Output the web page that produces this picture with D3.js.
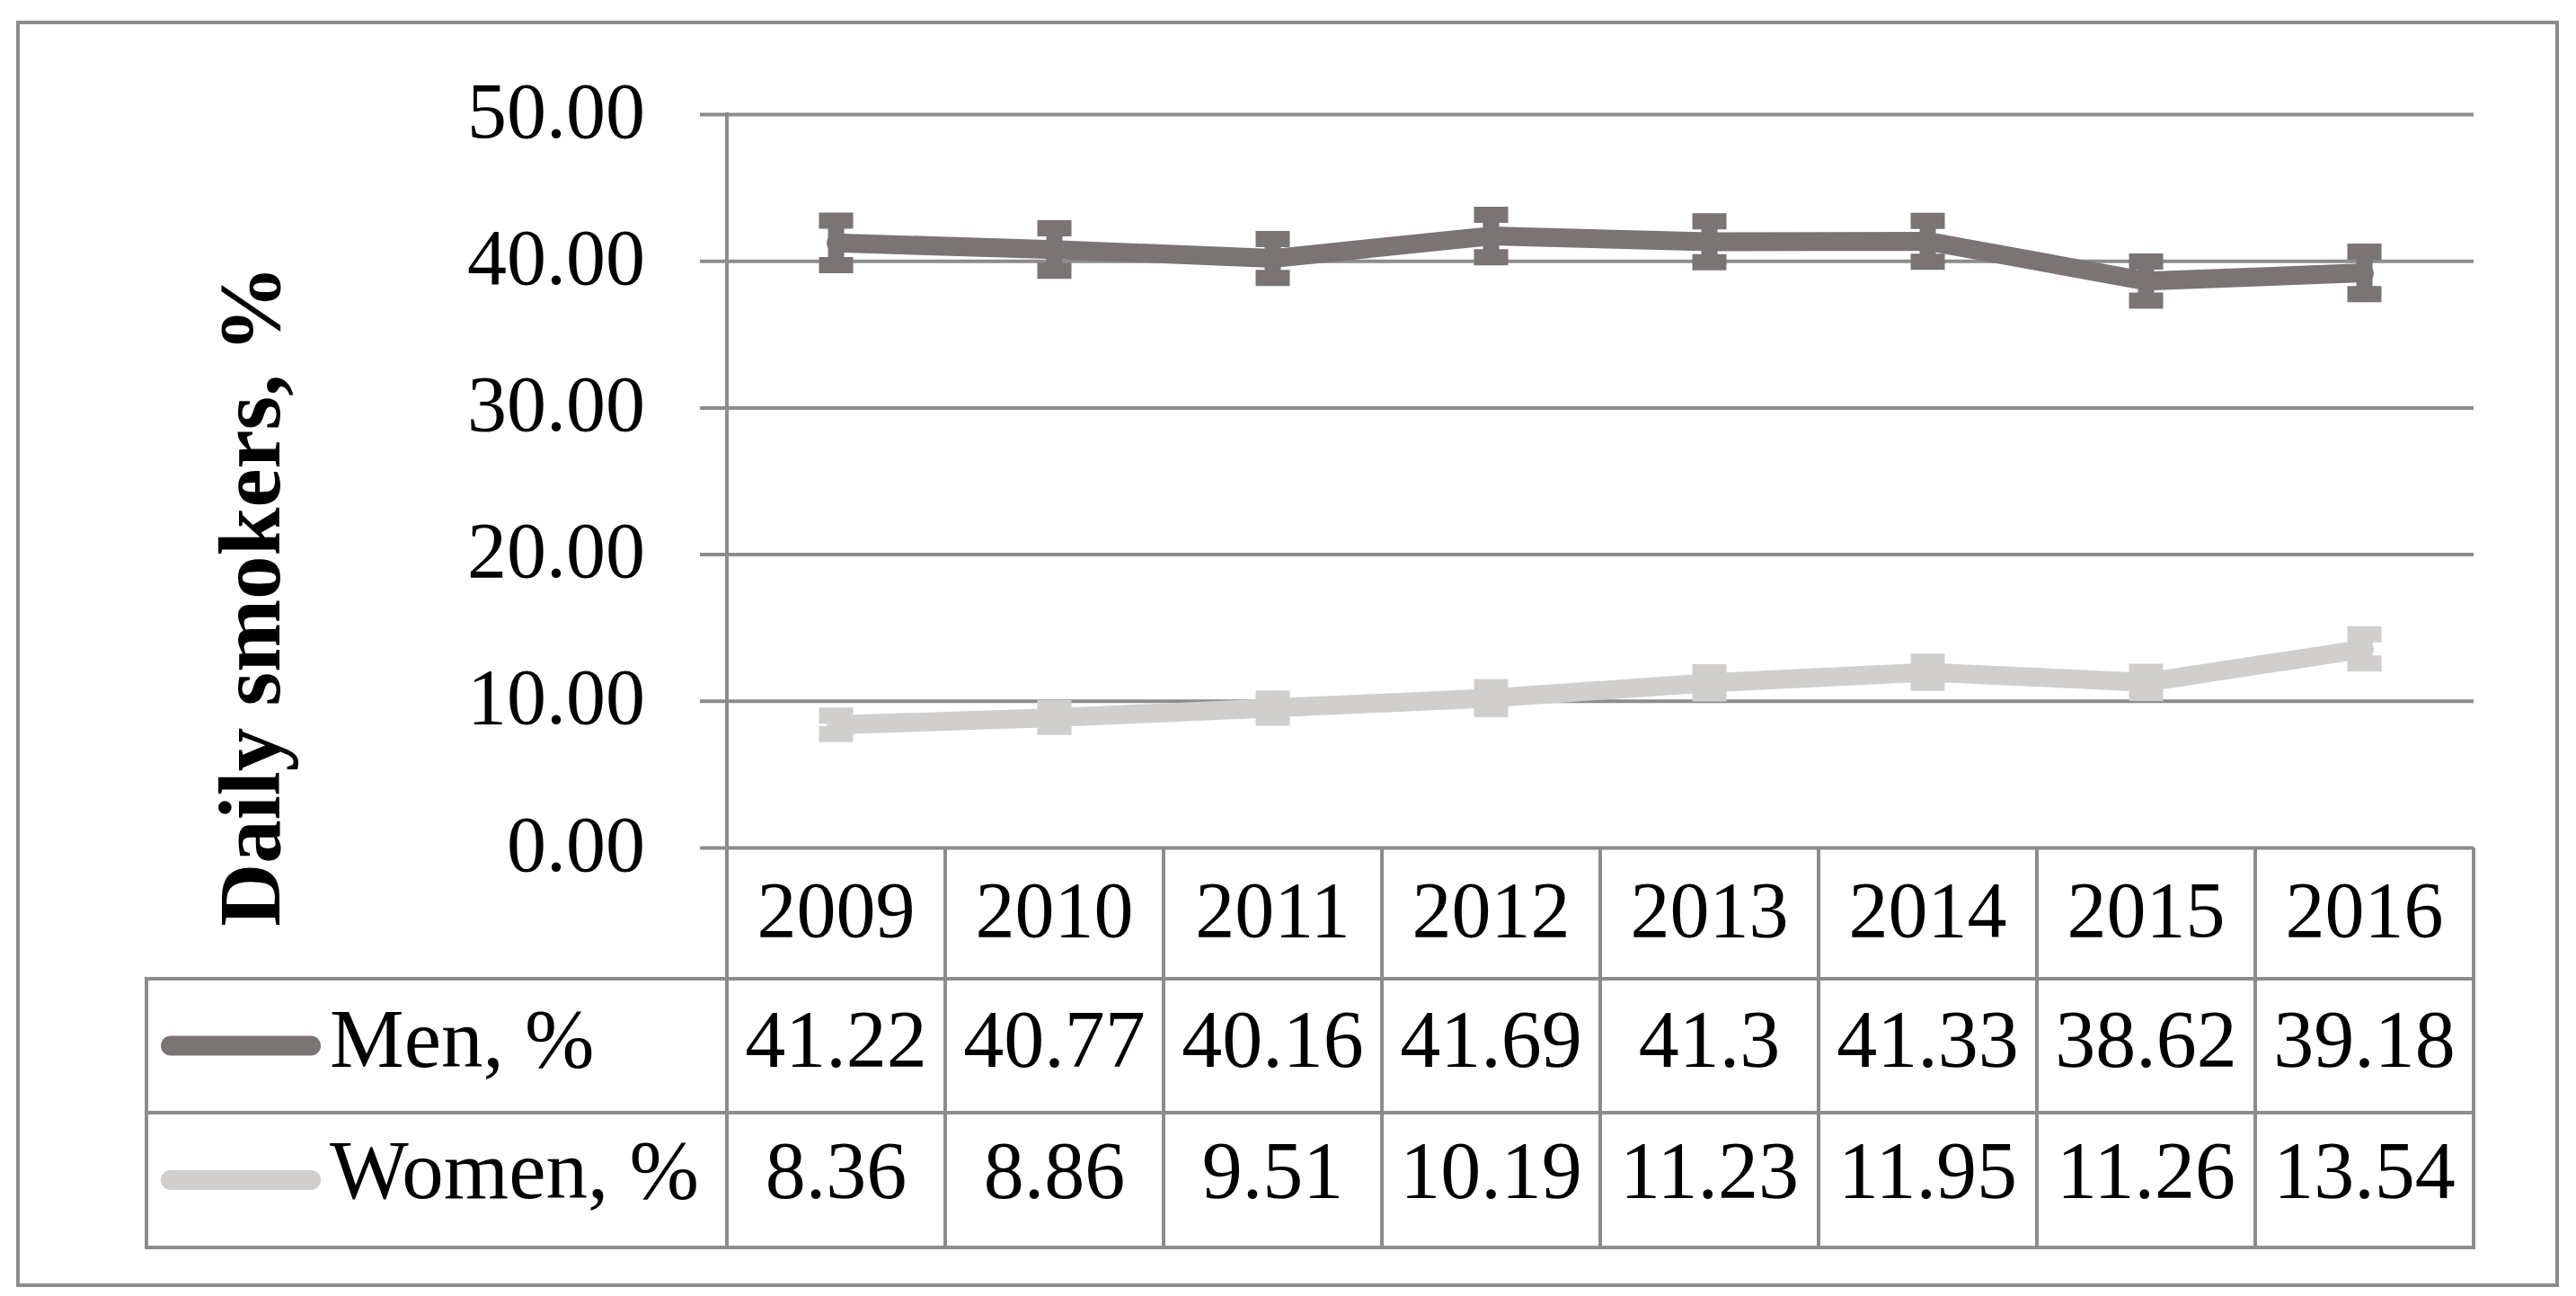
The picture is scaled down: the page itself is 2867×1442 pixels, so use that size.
<!DOCTYPE html>
<html>
<head>
<meta charset="utf-8">
<script src="https://cdn.jsdelivr.net/npm/d3@7"></script>
<style>
  body { margin: 0; background: #fff; }
  text { font-family: "Liberation Serif", "Times New Roman", serif; fill: #000; }
</style>
</head>
<body>
<div id="chart"></div>
<script>
// data
var years = ["2009", "2010", "2011", "2012", "2013", "2014", "2015", "2016"];
var menValues = [41.22, 40.77, 40.16, 41.69, 41.3, 41.33, 38.62, 39.18];
var womenValues = [8.36, 8.86, 9.51, 10.19, 11.23, 11.95, 11.26, 13.54];
var menErrors = [1.52, 1.45, 1.33, 1.45, 1.4, 1.4, 1.33, 1.45];
var womenErrors = [0.63, 0.63, 0.65, 0.75, 0.72, 0.72, 0.72, 1.0];
var yTicks = [0, 10, 20, 30, 40, 50];
var seriesNames = ["Men, %", "Women, %"];

var svgWidth = 2867;
var svgHeight = 1442;

var gridColor = "#8c8c8c";
var menColor = "#7a7474";
var womenColor = "#d0cfcd";

// plot / table geometry
var plotLeft = 809, plotRight = 2753;
var plotTop = 127, plotBottom = 943;
var rowBottoms = [1089, 1238, 1388];
var tableLeft = 163;

var svg = d3.select("#chart")
  .append("svg")
  .attr("width", svgWidth)
  .attr("height", svgHeight);

var xScale = d3.scaleBand()
  .domain(years)
  .range([plotLeft, plotRight]);

var yScale = d3.scaleLinear()
  .domain([0, 50])
  .range([plotBottom, plotTop]);

// outer frame
svg.append("rect")
  .attr("x", 20).attr("y", 25)
  .attr("width", 2826).attr("height", 1405)
  .attr("fill", "none")
  .attr("stroke", gridColor)
  .attr("stroke-width", 4);

// y axis with gridlines
var leftAxis = d3.axisLeft(yScale)
  .tickValues(yTicks)
  .tickSize(-(plotRight - plotLeft))
  .tickFormat(d3.format(".2f"))
  .tickPadding(0);

var axisG = svg.append("g")
  .attr("transform", `translate(${plotLeft}, 0)`)
  .call(leftAxis);

axisG.select(".domain").remove();
axisG.selectAll(".tick line")
  .attr("x1", -30)
  .attr("stroke", gridColor)
  .attr("stroke-width", 4);
axisG.selectAll(".tick text")
  .attr("x", -91)
  .attr("dy", null)
  .attr("y", 25)
  .attr("font-size", 88)
  .attr("font-family", "Liberation Serif")
  .attr("fill", "#000");

// vertical axis line running through the table
svg.append("line")
  .attr("x1", plotLeft).attr("x2", plotLeft)
  .attr("y1", plotTop - 2).attr("y2", rowBottoms[2] + 2)
  .attr("stroke", gridColor)
  .attr("stroke-width", 4);

// data table grid
svg.selectAll(".colLine")
  .data(years)
  .enter()
  .append("line")
  .attr("class", "colLine")
  .attr("x1", d => xScale(d) + xScale.bandwidth())
  .attr("x2", d => xScale(d) + xScale.bandwidth())
  .attr("y1", plotBottom)
  .attr("y2", rowBottoms[2] + 2)
  .attr("stroke", gridColor)
  .attr("stroke-width", 4);

svg.selectAll(".rowLine")
  .data(rowBottoms)
  .enter()
  .append("line")
  .attr("class", "rowLine")
  .attr("x1", tableLeft - 2)
  .attr("x2", plotRight + 2)
  .attr("y1", d => d)
  .attr("y2", d => d)
  .attr("stroke", gridColor)
  .attr("stroke-width", 4);

svg.append("line")
  .attr("x1", tableLeft).attr("x2", tableLeft)
  .attr("y1", rowBottoms[0]).attr("y2", rowBottoms[2] + 2)
  .attr("stroke", gridColor)
  .attr("stroke-width", 4);

// table text
var colCenter = d => xScale(d) + xScale.bandwidth() / 2;

svg.selectAll(".yearLabel")
  .data(years)
  .enter()
  .append("text")
  .attr("class", "yearLabel")
  .attr("x", d => colCenter(d))
  .attr("y", 1042)
  .attr("text-anchor", "middle")
  .attr("font-size", 88)
  .text(d => d);

var rows = [
  { name: seriesNames[0], values: menValues, errors: menErrors, color: menColor, base: 1187, mid: 1163.5 },
  { name: seriesNames[1], values: womenValues, errors: womenErrors, color: womenColor, base: 1333, mid: 1313 }
];

rows.forEach(function(row) {
  svg.selectAll(null)
    .data(row.values)
    .enter()
    .append("text")
    .attr("x", (d, i) => colCenter(years[i]))
    .attr("y", row.base)
    .attr("text-anchor", "middle")
    .attr("font-size", 90)
    .text(d => String(d));

  // legend key
  svg.append("line")
    .attr("x1", 190).attr("x2", 346)
    .attr("y1", row.mid).attr("y2", row.mid)
    .attr("stroke", row.color)
    .attr("stroke-width", 22)
    .attr("stroke-linecap", "round");

  svg.append("text")
    .attr("x", 367)
    .attr("y", row.base)
    .attr("font-size", 93)
    .text(row.name);
});

// error bars and lines
var line = d3.line()
  .x((d, i) => colCenter(years[i]))
  .y(d => yScale(d));

rows.forEach(function(row) {
  var eb = svg.append("g");
  row.values.forEach(function(v, i) {
    var cx = colCenter(years[i]);
    var yHi = yScale(v + row.errors[i]);
    var yLo = yScale(v - row.errors[i]);
    eb.append("line")
      .attr("x1", cx).attr("x2", cx)
      .attr("y1", yHi).attr("y2", yLo)
      .attr("stroke", row.color)
      .attr("stroke-width", 18);
    [yHi, yLo].forEach(function(yy) {
      eb.append("line")
        .attr("x1", cx - 19).attr("x2", cx + 19)
        .attr("y1", yy).attr("y2", yy)
        .attr("stroke", row.color)
        .attr("stroke-width", 18);
    });
  });

  svg.append("path")
    .datum(row.values)
    .attr("d", line)
    .attr("fill", "none")
    .attr("stroke", row.color)
    .attr("stroke-width", 21)
    .attr("stroke-linecap", "round")
    .attr("stroke-linejoin", "round");
});

// y axis title
svg.append("text")
  .attr("transform", "translate(311, 663) rotate(-90)")
  .attr("text-anchor", "middle")
  .attr("font-size", 97)
  .attr("font-weight", "bold")
  .text("Daily smokers, %");
</script>
</body>
</html>
